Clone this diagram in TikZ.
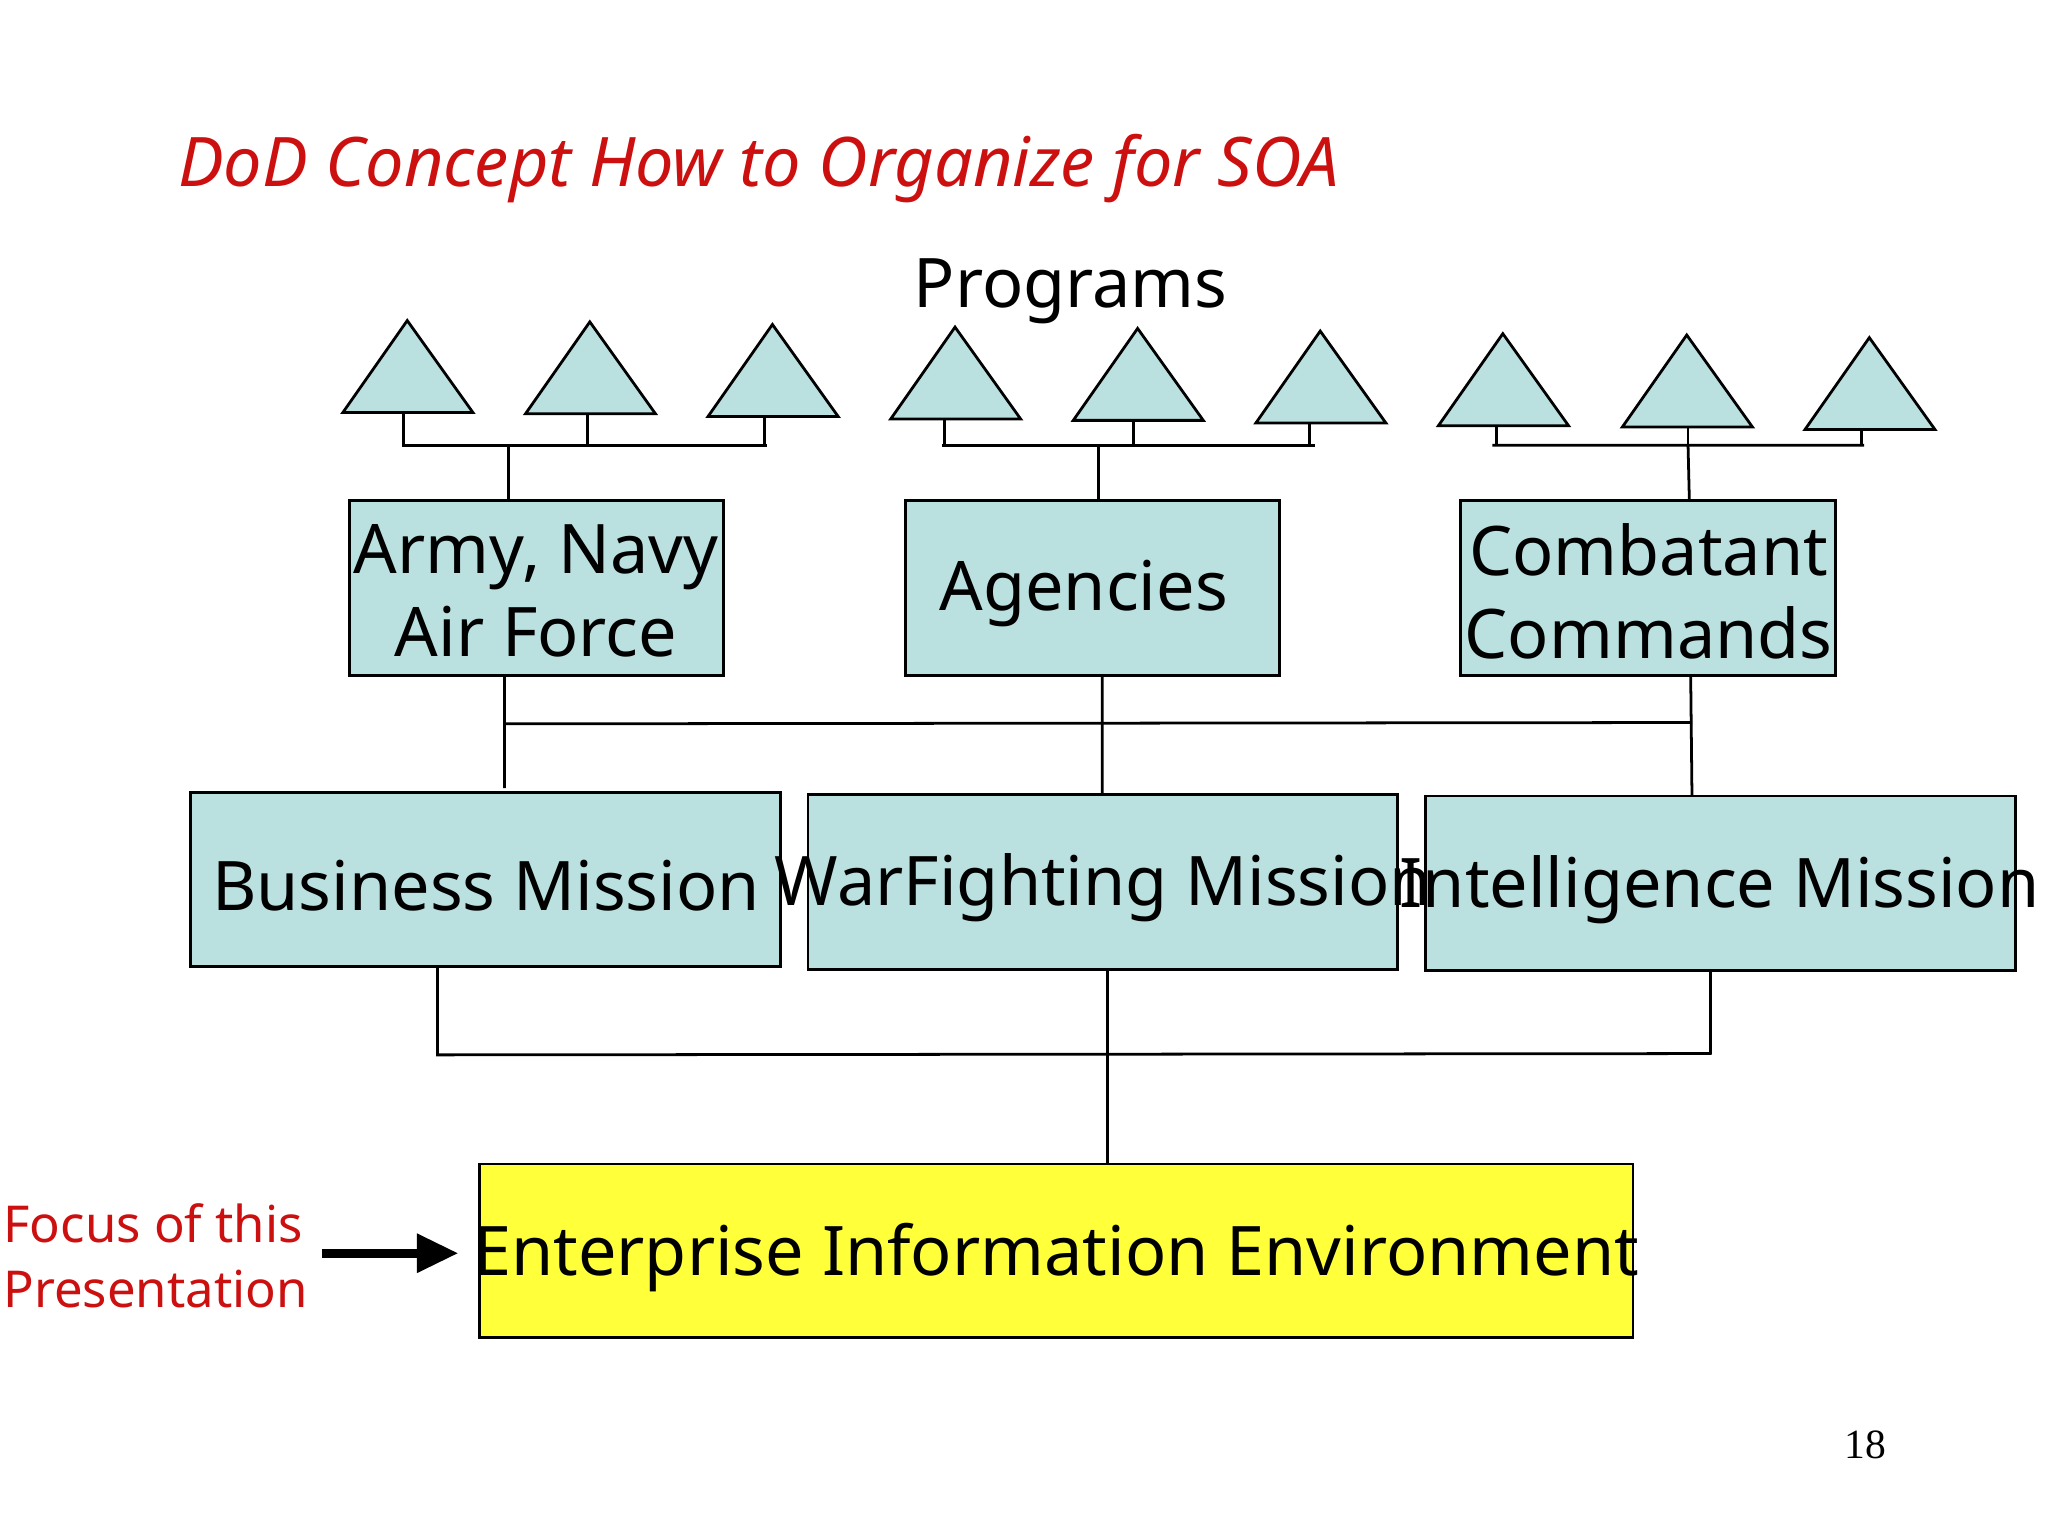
\documentclass[tikz,border=0pt]{standalone}
\usepackage{fontspec}
\setmainfont{Noto Sans}
\newfontfamily\pgserif{Liberation Serif}
\usetikzlibrary{arrows.meta}
\definecolor{boxblue}{HTML}{BAE0E0}
\definecolor{eieyellow}{HTML}{FFFF3A}
\definecolor{titlered}{HTML}{CC1010}
\begin{document}
\begin{tikzpicture}[x=0.01cm,y=-0.01cm,
  bx/.style={draw=black,fill=boxblue,line width=0.6pt},
  lbl/.style={font=\fontsize{14.8}{18}\selectfont,align=center,inner sep=0pt},
  ln/.style={line width=0.6pt},
  tri/.style={draw=black,fill=boxblue,line width=0.6pt}]
\useasboundingbox (0,0) rectangle (1559,1169);
\node[anchor=west,inner sep=0pt,text=titlered,font=\itshape\fontsize{14.8}{18}\selectfont] (title) at (135,128) {DoD Concept How to Organize for SOA};
\node[lbl] (prog) at (815,222) {Programs};
% triangles
\foreach \ax/\ay/\sx [count=\i] in {310/244/307,449/245/447,588/247/582,727/249/719,866/250/863,1005/252/997,1144/254/1139,1284/255/1285,1423/257/1417}{
  \draw[tri] (\ax,\ay) -- ++(-49,70) -- ++(99,0) -- cycle;
  \coordinate (s\i) at (\sx,\ay+70);
  \coordinate (b\i) at (\sx,339);
  \draw[ln] (s\i) -- (b\i);
}
% boxes
\draw[bx] (266,381) rectangle (551,514); \node[lbl] (army) at (408,450) {Army, Navy\\Air Force};
\draw[bx] (689,381) rectangle (974,514); \node[lbl] (agen) at (825,452) {Agencies};
\draw[bx] (1112,381) rectangle (1397,514); \node[lbl] (comb) at (1255,450) {Combatant\\Commands};
\draw[ln] (306,339) -- (584,339) (387,339) -- (387,381);
\draw[ln] (717,339) -- (1001,339) (836,339) -- (836,381);
\draw[ln] (1136,339) -- (1419,339) (1285,339) -- (1286,381);
\draw[ln] (384,551) -- (1288,550);
\draw[ln] (384,514) -- (384,600) (839,514) -- (839,604) (1287,514) -- (1288,606);
\draw[bx] (145,603) rectangle (594,736); \node[lbl] (bus) at (370,674) {Business Mission};
\draw[bx] (615,605) rectangle (1064,738); \node[lbl] (war) at (840,676) {WarFighting Mission};
\draw[bx] (1085,606) rectangle (1534,739); \node[lbl] (intel) at (1309,677) {Intelligence Mission};
\draw[ln] (332,803) -- (1303,802);
\draw[ln] (333,736) -- (333,803) (843,738) -- (843,886) (1302,739) -- (1302,802);
\draw[draw=black,fill=eieyellow,line width=0.6pt] (365,886) rectangle (1243,1018);
\node[lbl] (eie) at (804,957) {Enterprise Information Environment};
\node[anchor=west,align=left,inner sep=0pt,text=titlered,font=\fontsize{11}{14}\selectfont] (focus) at (2,956) {Focus of this\\Presentation};
\coordinate (a1) at (245,954); \coordinate (a2) at (349,954);
\draw[line width=2pt,-{Triangle[length=9pt,width=8pt]}] (a1) -- (a2);
\node[font=\pgserif\fontsize{9}{11}\selectfont] (pg) at (1420,1100) {18};
\end{tikzpicture}
\end{document}
